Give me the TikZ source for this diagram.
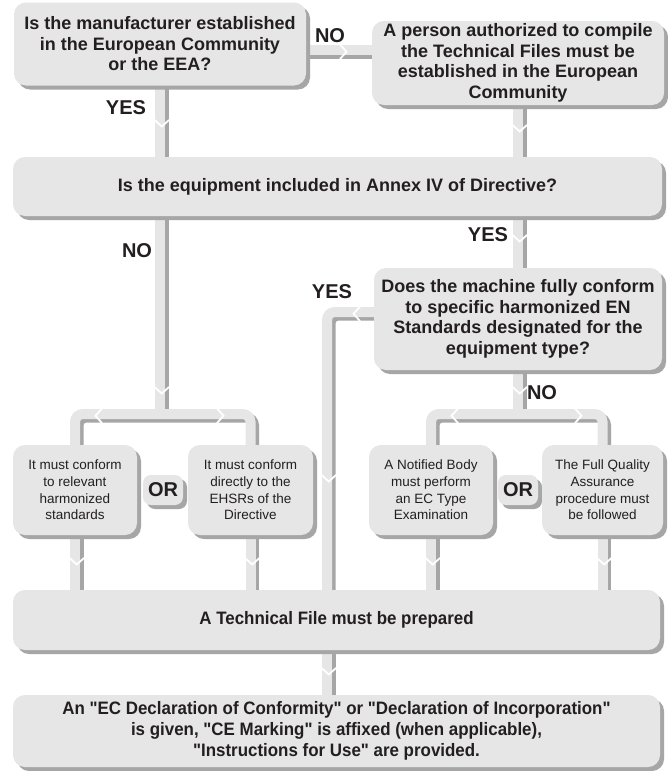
\documentclass[tikz,border=0pt]{standalone}
\usepackage{fontspec}
\setmainfont{Liberation Sans}
\newfontfamily\condfont{Liberation Sans}[FakeStretch=0.94]
\usetikzlibrary{shadows,calc}
\definecolor{boxfill}{HTML}{E6E6E6}
\definecolor{shad}{HTML}{A6A6A6}
\definecolor{txt}{HTML}{231F20}
\pgfdeclarelayer{bg}
\pgfdeclarelayer{paper}
\pgfsetlayers{paper,bg,main}
\tikzset{
  box/.style={rounded corners=12pt, fill=boxfill, draw=none, text=txt, align=center, inner sep=0pt,
    drop shadow={shadow xshift=4pt, shadow yshift=-4pt, fill=shad, opacity=1}},
  orbox/.style={box, rounded corners=8pt, minimum width=40pt, minimum height=30pt,
    font=\fontsize{20}{22}\selectfont\bfseries},
  bigtxt/.style={font=\fontsize{18}{20.5}\selectfont\bfseries},
  condtxt/.style={font=\condfont\fontsize{18}{21}\selectfont\bfseries},
  smalltxt/.style={font=\fontsize{13.5}{16.7}\selectfont},
  lbl/.style={text=txt, inner sep=0pt, font=\fontsize{20}{22}\selectfont\bfseries},
  clight/.style={draw=boxfill, line width=10pt, rounded corners=8pt},
  cdark/.style={draw=shad, line width=10pt, rounded corners=8pt},
  chevron/.style={draw=white, line width=1.8pt}
}
\newcommand\cpath[1]{%
  \begin{pgfonlayer}{bg}
  \draw[cdark, transform canvas={shift={(3.5pt,-3.5pt)}}] #1;
  \draw[clight] #1;
  \end{pgfonlayer}}
\newcommand\chevdown[2]{\begin{pgfonlayer}{bg}\draw[chevron] (#1-5.5,#2-5) -- (#1+1.75,#2+1.5) -- (#1+9,#2-5);\end{pgfonlayer}}
\newcommand\chevright[2]{\begin{pgfonlayer}{bg}\draw[chevron] (#1-5,#2-5.5) -- (#1+1.5,#2+1.75) -- (#1-5,#2+9);\end{pgfonlayer}}
\newcommand\chevleft[2]{\begin{pgfonlayer}{bg}\draw[chevron] (#1+5,#2-5.5) -- (#1-1.5,#2+1.75) -- (#1+5,#2+9);\end{pgfonlayer}}
\begin{document}
\begin{tikzpicture}[x=1pt,y=-1pt]
\begin{pgfonlayer}{paper}
\fill[white] (0,0) rectangle (667,771);
\end{pgfonlayer}
\useasboundingbox (0,0) rectangle (667,771);

% boxes
\node[box, bigtxt, minimum width=292pt, minimum height=83pt] (b1) at (160,44)
  {Is the manufacturer established\\in the European Community\\or the EEA?};
\node[box, bigtxt, minimum width=292pt, minimum height=84pt] (b2) at (518,63)
  {A person authorized to compile\\the Technical Files must be\\established in the European\\Community};
\node[box, bigtxt, minimum width=649pt, minimum height=59pt] (b3) at (337.5,186.5)
  {Is the equipment included in Annex IV of Directive?};
\node[box, bigtxt, minimum width=288pt, minimum height=102pt] (b4) at (518,319)
  {Does the machine fully conform\\to specific harmonized EN\\Standards designated for the\\equipment type?};
\node[box, smalltxt, minimum width=124pt, minimum height=90pt] (b5) at (75,490)
  {It must conform\\to relevant\\harmonized\\standards};
\node[orbox] (or1) at (163,490) {OR};
\node[box, smalltxt, minimum width=125pt, minimum height=90pt] (b6) at (250.5,490)
  {It must conform\\directly to the\\EHSRs of the\\Directive};
\node[box, smalltxt, minimum width=124pt, minimum height=90pt] (b7) at (431,490)
  {A Notified Body\\must perform\\an EC Type\\Examination};
\node[orbox] (or2) at (518,490) {OR};
\node[box, smalltxt, minimum width=121pt, minimum height=90pt] (b8) at (602.5,490)
  {The Full Quality\\Assurance\\procedure must\\be followed};
\node[box, condtxt, minimum width=647pt, minimum height=60pt] (b9) at (336.5,620)
  {A Technical File must be prepared};
\node[box, condtxt, minimum width=647pt, minimum height=72pt] (b10) at (336.5,731)
  {An "EC Declaration of Conformity" or "Declaration of Incorporation"\\is given, "CE Marking" is affixed (when applicable),\\"Instructions for Use" are provided.};

% helper coordinates
\coordinate (splitL) at (160,414);
\coordinate (splitR) at (518,414);
\coordinate (ycorner) at (327,312);

% connectors
\cpath{(b1.south) -- (b3.north -| b1.south)}
\cpath{([yshift=-6pt]b1.east) -- ([yshift=-6pt]b1.east -| b2.west)}
\cpath{(b2.south) -- (b3.north -| b2.south)}
\cpath{(b3.south -| splitL) -- (splitL)}
\cpath{(b5.north) |- (splitL) -| (b6.north)}
\cpath{(b3.south -| b4.north) -- (b4.north)}
\cpath{(b4.south) -- (splitR)}
\cpath{(b7.north) |- (splitR) -| (b8.north)}
\cpath{([yshift=7pt]b4.west) -- (ycorner) -- (ycorner |- b9.north)}
\cpath{(b5.south) -- (b5.south |- b9.north)}
\cpath{(b6.south) -- (b6.south |- b9.north)}
\cpath{(b7.south) -- (b7.south |- b9.north)}
\cpath{(b8.south) -- (b8.south |- b9.north)}
\cpath{(b9.south -| ycorner) -- (b10.north -| ycorner)}

% chevrons
\chevdown{160}{125}
\chevright{345}{50}
\chevdown{518}{130}
\chevdown{160}{392}
\chevleft{97}{414}
\chevright{222}{414}
\chevdown{518}{240}
\chevleft{355}{312}
\chevdown{327}{480}
\chevdown{518}{392}
\chevleft{453}{414}
\chevright{580}{414}
\chevdown{75}{563}
\chevdown{250.5}{563}
\chevdown{431}{563}
\chevdown{602.5}{563}
\chevdown{327}{673}

% labels
\node[lbl] (lno1) at (330,36) {NO};
\node[lbl] (lyes1) at (126,108) {YES};
\node[lbl] (lno2) at (137,251) {NO};
\node[lbl] (lyes2) at (488,235) {YES};
\node[lbl] (lyes3) at (332,292) {YES};
\node[lbl] (lno3) at (542,393) {NO};
\end{tikzpicture}
\end{document}
